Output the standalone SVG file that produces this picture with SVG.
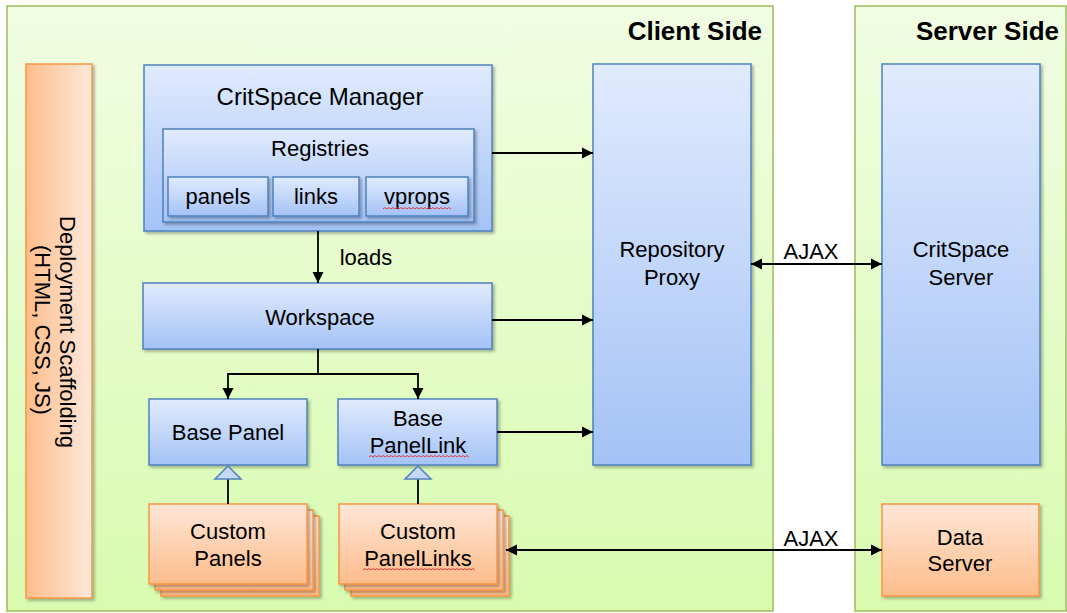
<svg xmlns="http://www.w3.org/2000/svg" width="1067" height="613" viewBox="0 0 1067 613">
<defs>
<linearGradient id="gGreen" x1="0" y1="0" x2="0" y2="1"><stop offset="0" stop-color="#f1fde3"/><stop offset="1" stop-color="#d8fbaf"/></linearGradient>
<linearGradient id="gBlue" x1="0" y1="0" x2="0" y2="1"><stop offset="0" stop-color="#e0ebfd"/><stop offset="1" stop-color="#a4c2f6"/></linearGradient>
<linearGradient id="gOrV" x1="0" y1="0" x2="0" y2="1"><stop offset="0" stop-color="#fee6d8"/><stop offset="1" stop-color="#fdbd8a"/></linearGradient>
<linearGradient id="gOrH" x1="0" y1="0" x2="1" y2="0"><stop offset="0" stop-color="#fdbd8a"/><stop offset="1" stop-color="#fee8db"/></linearGradient>
<filter id="sh" x="-10%" y="-10%" width="130%" height="130%"><feDropShadow dx="2" dy="2" stdDeviation="1.5" flood-color="#000" flood-opacity="0.3"/></filter>
<marker id="ah" viewBox="0 0 10 10" refX="10" refY="5" markerWidth="11" markerHeight="12" markerUnits="userSpaceOnUse" orient="auto-start-reverse"><path d="M0,0 L10,5 L0,10 z" fill="#000"/></marker>
<style>
.panel{fill:url(#gGreen);stroke:#9bbb59;stroke-width:1.5}
.blue{fill:url(#gBlue);stroke:#4f81bd;stroke-width:1.5;filter:url(#sh)}
.orv{fill:url(#gOrV);stroke:#f79646;stroke-width:1.5;filter:url(#sh)}
.orh{fill:url(#gOrH);stroke:#f79646;stroke-width:1.5;filter:url(#sh)}
.t{font-family:"Liberation Sans",Arial,sans-serif;font-size:22px;text-anchor:middle;fill:#000}
.tt{font-size:24px}
.h{font-family:"Liberation Sans",Arial,sans-serif;font-size:26px;font-weight:bold;text-anchor:end;fill:#000}
.c{fill:none;stroke:#000;stroke-width:1.8}
.ca{fill:none;stroke:#000;stroke-width:1.8;marker-end:url(#ah)}
.cb{fill:none;stroke:#000;stroke-width:1.8;marker-start:url(#ah);marker-end:url(#ah)}
.tri{fill:#c5d9f7;stroke:#4f81bd;stroke-width:1.5}
.sq{fill:none;stroke:#e03030;stroke-width:0.9}
</style>
</defs>

<g id="client-side">
<rect class="panel" x="7" y="6" width="766" height="605"/>
<text class="h" x="762" y="40">Client Side</text>
</g>
<g id="server-side">
<rect class="panel" x="855" y="6" width="211" height="605"/>
<text class="h" x="1059" y="40">Server Side</text>
</g>

<g id="deployment">
<rect class="orh" x="26" y="64" width="66" height="534"/>
<text class="t" transform="translate(60,332) rotate(90)">Deployment Scaffolding</text>
<text class="t" transform="translate(35,330) rotate(90)">(HTML, CSS, JS)</text>
</g>

<g id="critspace-manager">
<rect class="blue" x="144" y="65" width="348" height="166"/>
<text class="t tt" x="320" y="105">CritSpace Manager</text>
</g>
<g id="registries">
<rect class="blue" x="163" y="129" width="311" height="93"/>
<text class="t" x="320" y="156">Registries</text>
</g>
<g id="reg-panels">
<rect class="blue" x="168" y="177" width="100" height="39"/>
<text class="t" x="218" y="204">panels</text>
</g>
<g id="reg-links">
<rect class="blue" x="273" y="177" width="86" height="39"/>
<text class="t" x="316" y="204">links</text>
</g>
<g id="reg-vprops">
<rect class="blue" x="366" y="177" width="102" height="39"/>
<text class="t" x="417" y="204">vprops</text>
<path class="sq" d="M383,209 l2,-1.5 l2,1.5 l2,-1.5 l2,1.5 l2,-1.5 l2,1.5 l2,-1.5 l2,1.5 l2,-1.5 l2,1.5 l2,-1.5 l2,1.5 l2,-1.5 l2,1.5 l2,-1.5 l2,1.5 l2,-1.5 l2,1.5 l2,-1.5 l2,1.5 l2,-1.5 l2,1.5 l2,-1.5 l2,1.5 l2,-1.5 l2,1.5 l2,-1.5 l2,1.5 l2,-1.5 l2,1.5 l2,-1.5 l2,1.5 l2,-1.5 l2,1.5"/>
</g>

<g id="workspace">
<rect class="blue" x="143" y="283" width="349" height="66"/>
<text class="t" x="320" y="325">Workspace</text>
</g>

<g id="base-panel">
<rect class="blue" x="149" y="399" width="158" height="66"/>
<text class="t" x="228" y="440">Base Panel</text>
</g>
<g id="base-panellink">
<rect class="blue" x="338" y="399" width="159" height="66"/>
<text class="t" x="418" y="426">Base</text>
<text class="t" x="418" y="453">PanelLink</text>
<path class="sq" d="M369,457 l2,-1.5 l2,1.5 l2,-1.5 l2,1.5 l2,-1.5 l2,1.5 l2,-1.5 l2,1.5 l2,-1.5 l2,1.5 l2,-1.5 l2,1.5 l2,-1.5 l2,1.5 l2,-1.5 l2,1.5 l2,-1.5 l2,1.5 l2,-1.5 l2,1.5 l2,-1.5 l2,1.5 l2,-1.5 l2,1.5 l2,-1.5 l2,1.5 l2,-1.5 l2,1.5 l2,-1.5 l2,1.5 l2,-1.5 l2,1.5 l2,-1.5 l2,1.5 l2,-1.5 l2,1.5 l2,-1.5 l2,1.5 l2,-1.5 l2,1.5 l2,-1.5 l2,1.5 l2,-1.5 l2,1.5 l2,-1.5 l2,1.5 l2,-1.5 l2,1.5 l2,-1.5 l2,1.5"/>
</g>

<g id="custom-panels">
<rect class="orv" x="161" y="516" width="158" height="80"/>
<rect class="orv" x="155" y="510" width="158" height="80"/>
<rect class="orv" x="149" y="504" width="158" height="80"/>
<text class="t" x="228" y="539">Custom</text>
<text class="t" x="228" y="566">Panels</text>
</g>
<g id="custom-panellinks">
<rect class="orv" x="351" y="516" width="158" height="80"/>
<rect class="orv" x="345" y="510" width="158" height="80"/>
<rect class="orv" x="339" y="504" width="158" height="80"/>
<text class="t" x="418" y="539">Custom</text>
<text class="t" x="418" y="566">PanelLinks</text>
<path class="sq" d="M363,570 l2,-1.5 l2,1.5 l2,-1.5 l2,1.5 l2,-1.5 l2,1.5 l2,-1.5 l2,1.5 l2,-1.5 l2,1.5 l2,-1.5 l2,1.5 l2,-1.5 l2,1.5 l2,-1.5 l2,1.5 l2,-1.5 l2,1.5 l2,-1.5 l2,1.5 l2,-1.5 l2,1.5 l2,-1.5 l2,1.5 l2,-1.5 l2,1.5 l2,-1.5 l2,1.5 l2,-1.5 l2,1.5 l2,-1.5 l2,1.5 l2,-1.5 l2,1.5 l2,-1.5 l2,1.5 l2,-1.5 l2,1.5 l2,-1.5 l2,1.5 l2,-1.5 l2,1.5 l2,-1.5 l2,1.5 l2,-1.5 l2,1.5 l2,-1.5 l2,1.5 l2,-1.5 l2,1.5 l2,-1.5 l2,1.5 l2,-1.5 l2,1.5 l2,-1.5 l2,1.5"/>
</g>

<g id="repository-proxy">
<rect class="blue" x="593" y="64" width="158" height="401"/>
<text class="t" x="672" y="257">Repository</text>
<text class="t" x="672" y="285">Proxy</text>
</g>
<g id="critspace-server">
<rect class="blue" x="882" y="64" width="158" height="401"/>
<text class="t" x="961" y="257">CritSpace</text>
<text class="t" x="961" y="285">Server</text>
</g>
<g id="data-server">
<rect class="orv" x="882" y="504" width="157" height="92"/>
<text class="t" x="960" y="545">Data</text>
<text class="t" x="960" y="571">Server</text>
</g>

<g id="connectors">
<path class="ca" d="M492,153 H593"/>
<path class="ca" d="M318,231 V283"/>
<text class="t" x="366" y="265">loads</text>
<path class="ca" d="M492,320 H593"/>
<path class="c" d="M318,349 V374 M228,374 H418"/>
<path class="ca" d="M228,373 V399"/>
<path class="ca" d="M418,373 V399"/>
<path class="ca" d="M497,432 H593"/>
<path class="c" d="M228,504 V479"/>
<polygon class="tri" points="215,479 241,479 228,466"/>
<path class="c" d="M418,504 V479"/>
<polygon class="tri" points="405,479 431,479 418,466"/>
<path class="cb" d="M751,264 H882"/>
<text class="t" x="811" y="259">AJAX</text>
<path class="cb" d="M506,550 H882"/>
<text class="t" x="811" y="546">AJAX</text>
</g>
</svg>
